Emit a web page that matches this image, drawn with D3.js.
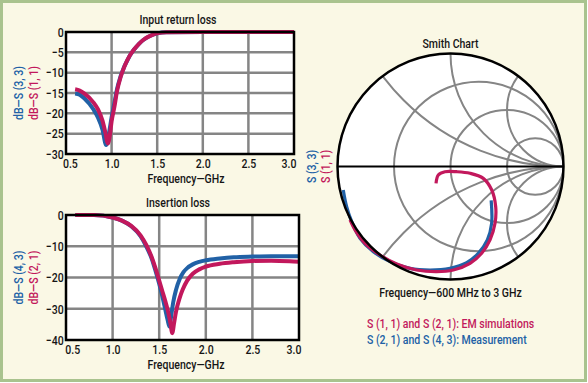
<!DOCTYPE html>
<html><head><meta charset="utf-8">
<script src="https://cdn.jsdelivr.net/npm/d3@7"></script>
<style>
body{margin:0;padding:0;background:#fff;}
svg text{font-family:Roboto,'Liberation Sans',sans-serif;font-weight:500;}
</style></head>
<body><svg id="c" width="588" height="383"></svg>
<script>
// ---------- DATA ----------
const xTickLabels = [0.5, 1.0, 1.5, 2.0, 2.5, 3.0];
const rlTicks = [0, -5, -10, -15, -20, -25, -30];
const ilTicks = [0, -10, -20, -30, -40];

// Input return loss
const s11Freq = [0.6,0.65,0.7,0.8,0.85,0.9,0.93,0.96,0.98,1.0,1.03,1.06,1.1,1.15,1.2,1.25,1.3,1.35,1.4,1.45,1.5,1.55,1.6,2.0,2.5,3.0];
const s11dB   = [-14.1,-14.4,-15.1,-17.3,-19,-21.8,-24.5,-27.4,-25.5,-22,-18.5,-14.5,-11,-8,-5.8,-4.2,-2.9,-1.9,-1.2,-0.7,-0.35,-0.15,-0.05,0,0,0];
const s33Freq = [0.6,0.65,0.7,0.8,0.85,0.9,0.94,0.97,1.0,1.03,1.06,1.1,1.2,1.3,1.4,1.5,1.6,2.0,2.5,3.0];
const s33dB   = [-15.1,-15.4,-16.3,-19,-21,-24,-27.8,-25,-21,-17.5,-14,-10.8,-5.8,-2.9,-1.2,-0.35,-0.05,0,0,0];

// Insertion loss
const s21Freq = [0.6,0.8,1.0,1.1,1.2,1.3,1.36,1.42,1.46,1.5,1.53,1.57,1.6,1.62,1.64,1.66,1.68,1.72,1.75,1.8,1.86,1.93,2.0,2.15,2.3,2.5,2.7,2.9,3.0];
const s21dB   = [0,0,-0.8,-1.8,-3.5,-6.5,-9.5,-13.5,-17,-21,-24,-28,-31.5,-34.5,-37.8,-34.5,-31,-26.5,-24,-21,-18.8,-17.4,-16.5,-15.6,-15.1,-14.7,-14.6,-14.8,-15.0];
const s43Freq = [0.6,0.8,1.0,1.1,1.2,1.3,1.36,1.42,1.46,1.5,1.53,1.56,1.59,1.61,1.63,1.65,1.68,1.72,1.76,1.8,1.86,1.93,2.0,2.15,2.3,2.5,2.7,2.9,3.0];
const s43dB   = [0,0,-0.8,-1.8,-3.6,-6.8,-10,-14,-17.8,-22,-25.5,-29.5,-33.5,-35.7,-32,-28,-24,-20.5,-18.3,-17,-15.8,-15,-14.5,-13.9,-13.5,-13.3,-13.2,-13.2,-13.2];

// Smith chart (reflection coefficient, real / imaginary)
const simRe  = [-0.128,-0.108,-0.049,0.055,0.173,0.29,0.365,0.40,0.394,0.35,0.276,0.173,0.025,-0.122,-0.30,-0.476,-0.624,-0.757,-0.845,-0.889];
const simIm  = [-0.149,-0.075,-0.046,-0.046,-0.06,-0.105,-0.208,-0.356,-0.503,-0.65,-0.768,-0.857,-0.916,-0.931,-0.916,-0.863,-0.783,-0.68,-0.562,-0.473];
const measRe = [0.36,0.364,0.326,0.246,0.143,-0.004,-0.181,-0.358,-0.535,-0.683,-0.801,-0.874,-0.919,-0.949];
const measIm = [-0.30,-0.503,-0.65,-0.768,-0.851,-0.901,-0.916,-0.901,-0.842,-0.754,-0.635,-0.488,-0.356,-0.208];
const resistanceCircles = [1/3, 1, 3];
const reactanceArcs = [0.5, 1, 2, -0.5, -1, -2];

const CRIMSON = "#c2185c", BLUE = "#2161a6", GRID = "#858585", INK = "#151515";
const SX = 0.78;   // horizontal condensing of text
const FS = 13.5;

// ---------- DRAW ----------
const svg = d3.select("#c");
svg.append("rect").attr("x",1.5).attr("y",1.5).attr("width",584).attr("height",379)
  .attr("fill","#faf8e5").attr("stroke","#a9c38e").attr("stroke-width",3);

function label(parent, x, y, str, o = {}) {
  return parent.append("text")
    .attr("transform", `translate(${x},${y}) rotate(${o.rot||0}) scale(${SX},1)`)
    .attr("text-anchor", o.anchor || "middle")
    .attr("font-size", o.size || FS)
    .attr("fill", o.fill || INK)
    .text(str);
}

const minus = d => (d < 0 ? "\u2212" + Math.abs(d) : "" + d);

function linePanel(o) {
  const x = d3.scaleLinear().domain([0.5, 3.0]).range([o.left, o.right]);
  const y = d3.scaleLinear().domain([o.yMin, 0]).range([o.bottom, o.top]);
  const g = svg.append("g");
  g.append("rect").attr("x",o.left).attr("y",o.top).attr("width",o.right-o.left).attr("height",o.bottom-o.top).attr("fill","#fff");
  g.selectAll(".vg").data(xTickLabels.slice(1,-1)).join("line")
    .attr("x1",d=>x(d)).attr("x2",d=>x(d)).attr("y1",o.top).attr("y2",o.bottom)
    .attr("stroke",GRID).attr("stroke-width",2.5);
  g.selectAll(".hg").data(o.yTicks.slice(1,-1)).join("line")
    .attr("y1",d=>y(d)).attr("y2",d=>y(d)).attr("x1",o.left).attr("x2",o.right)
    .attr("stroke",GRID).attr("stroke-width",2.5);
  const ax = g.append("g").attr("transform",`translate(0,${o.bottom})`)
    .call(d3.axisBottom(x).tickValues(xTickLabels).tickFormat(d3.format(".1f")).tickSize(0).tickPadding(4));
  ax.selectAll(".tick").filter((d,i)=>i===0).select("text").attr("x", o.firstShift);
  ax.selectAll(".tick").filter((d,i)=>i===xTickLabels.length-1).select("text").attr("x", -7);
  const ay = g.append("g").attr("transform",`translate(${o.left},0)`)
    .call(d3.axisLeft(y).tickValues(o.yTicks).tickFormat(minus).tickSize(0).tickPadding(3));
  [ax, ay].forEach(a => { a.select(".domain").remove();
    a.selectAll("text").attr("font-size",FS).attr("fill",INK)
     .attr("transform",`scale(${SX},1)`); });
  const line = d3.line().x(d=>x(d[0])).y(d=>y(d[1])).curve(d3.curveMonotoneX);
  const clipId = "clip" + o.top;
  g.append("clipPath").attr("id",clipId).append("rect")
    .attr("x",o.left).attr("y",o.top-2).attr("width",o.right-o.left).attr("height",o.bottom-o.top+2);
  const cg = g.append("g").attr("clip-path",`url(#${clipId})`);
  cg.append("path").datum(d3.zip(o.measF,o.measV)).attr("d",line)
    .attr("fill","none").attr("stroke",BLUE).attr("stroke-width",4);
  cg.append("path").datum(d3.zip(o.simF,o.simV)).attr("d",line)
    .attr("fill","none").attr("stroke",CRIMSON).attr("stroke-width",4);
  g.append("rect").attr("x",o.left).attr("y",o.top).attr("width",o.right-o.left).attr("height",o.bottom-o.top)
    .attr("fill","none").attr("stroke","#000").attr("stroke-width",2.5);
  label(g, 178, o.top-8, o.title);
  label(g, 186, o.bottom+29, "Frequency\u2014GHz");
  const cy = (o.top+o.bottom)/2;
  label(g, 23, cy, o.measLabel, {rot:-90, fill:BLUE});
  label(g, 38, cy, o.simLabel, {rot:-90, fill:CRIMSON});
}

linePanel({left:66,right:294,top:32,bottom:154,yMin:-30,yTicks:rlTicks,title:"Input return loss",firstShift:5,
  simF:s11Freq,simV:s11dB,measF:s33Freq,measV:s33dB,simLabel:"dB\u2014S (1, 1)",measLabel:"dB\u2014S (3, 3)"});
linePanel({left:66,right:299,top:215,bottom:340,yMin:-40,yTicks:ilTicks,title:"Insertion loss",firstShift:8,
  simF:s21Freq,simV:s21dB,measF:s43Freq,measV:s43dB,simLabel:"dB\u2014S (2, 1)",measLabel:"dB\u2014S (4, 3)"});

// ---------- SMITH CHART ----------
const SCX = 450.5, SCY = 166.5, SR = 113;
const gx = d3.scaleLinear().domain([-1,1]).range([SCX-SR, SCX+SR]);
const gy = d3.scaleLinear().domain([-1,1]).range([SCY+SR, SCY-SR]);
const k = SR;
const sg = svg.append("g");
sg.append("clipPath").attr("id","smithclip").append("circle").attr("cx",gx(0)).attr("cy",gy(0)).attr("r",k);
sg.append("circle").attr("cx",gx(0)).attr("cy",gy(0)).attr("r",k).attr("fill","#fff");
const grid = sg.append("g").attr("clip-path","url(#smithclip)");
grid.selectAll(".rc").data(resistanceCircles).join("circle")
  .attr("cx",r=>gx(r/(r+1))).attr("cy",gy(0)).attr("r",r=>k/(r+1))
  .attr("fill","none").attr("stroke",GRID).attr("stroke-width",2);
grid.selectAll(".xa").data(reactanceArcs).join("circle")
  .attr("cx",gx(1)).attr("cy",xv=>gy(1/xv)).attr("r",xv=>k/Math.abs(xv))
  .attr("fill","none").attr("stroke",GRID).attr("stroke-width",2);
sg.append("line").attr("x1",gx(-1)).attr("x2",gx(1)).attr("y1",gy(0)).attr("y2",gy(0))
  .attr("stroke","#000").attr("stroke-width",2);
const sline = d3.line().x(d=>gx(d[0])).y(d=>gy(d[1])).curve(d3.curveCatmullRom);
sg.append("path").datum(d3.zip(measRe,measIm)).attr("d",sline)
  .attr("fill","none").attr("stroke",BLUE).attr("stroke-width",3.2);
sg.append("path").datum(d3.zip(simRe,simIm)).attr("d",sline)
  .attr("fill","none").attr("stroke",CRIMSON).attr("stroke-width",3.2);
sg.append("circle").attr("cx",gx(0)).attr("cy",gy(0)).attr("r",k)
  .attr("fill","none").attr("stroke","#000").attr("stroke-width",2.5);
label(sg, SCX, 48, "Smith Chart");
label(sg, SCX, 297, "Frequency\u2014600 MHz to 3 GHz");
label(sg, 316, SCY, "S (3, 3)", {rot:-90, fill:BLUE});
label(sg, 330, SCY, "S (1, 1)", {rot:-90, fill:CRIMSON});
label(sg, 367, 328, "S (1, 1) and S (2, 1): EM simulations", {anchor:"start", fill:CRIMSON});
label(sg, 367, 344, "S (2, 1) and S (4, 3): Measurement", {anchor:"start", fill:BLUE});
</script></body></html>
